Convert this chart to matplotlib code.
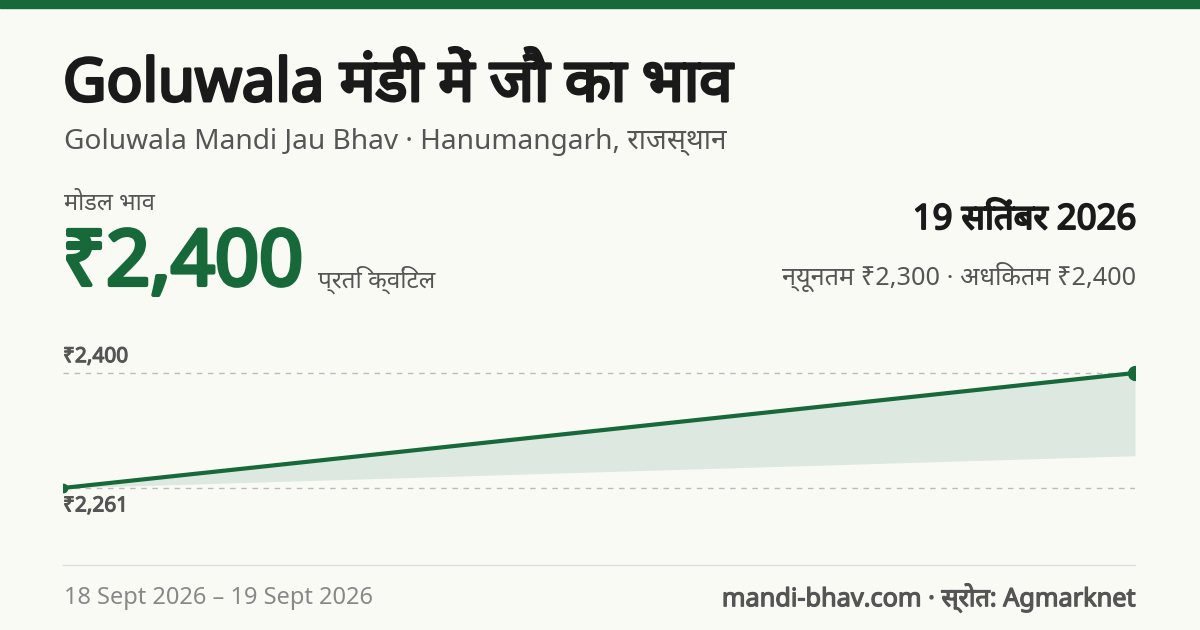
import matplotlib
matplotlib.use("Agg")
import matplotlib.pyplot as plt
from matplotlib.patches import Rectangle
from matplotlib.lines import Line2D
import matplotlib.patheffects as pe

plt.rcParams['font.family'] = ['Noto Sans', 'DejaVu Sans']

dates = ["18 Sept 2026", "19 Sept 2026"]
modal = [2261, 2400]
minp = [2261, 2300]
GREEN = "#17693a"
BG = "#fafaf5"

W, H = 1200, 630
fig = plt.figure(figsize=(12, 6.3), dpi=100, facecolor=BG)
def fy(px): return 1 - px / H
def fx(px): return px / W
def bold(c, w=1.2): return [pe.withStroke(linewidth=w, foreground=c)]

fig.add_artist(Rectangle((0, fy(8)), 1, 8 / H, transform=fig.transFigure, color=GREEN))
fig.text(fx(63), fy(85), "Goluwala मंडी में जौ का भाव", fontsize=43, color="#1a1a1a", va="center", path_effects=bold("#1a1a1a", 2.2))
fig.text(fx(64), fy(142), "Goluwala Mandi Jau Bhav · Hanumangarh, राजस्थान", fontsize=20.2, color="#555555", va="center")
fig.text(fx(64), fy(204), "मोडल भाव", fontsize=17, color="#555555", va="center")
fig.text(fx(62), fy(265), "₹2,400", fontsize=55.5, color=GREEN, va="center", path_effects=bold(GREEN, 3))
fig.text(fx(318), fy(280), "प्रति क्विंटल", fontsize=17.5, color="#555555", va="center")
fig.text(fx(1136), fy(220), "19 सितंबर 2026", fontsize=25, color="#1a1a1a", ha="right", va="center", path_effects=bold("#1a1a1a", 1.4))
fig.text(fx(1136), fy(277), "न्यूनतम ₹2,300 · अधिकतम ₹2,400", fontsize=18.2, color="#555555", ha="right", va="center")

ax = fig.add_axes([fx(63), fy(520), fx(1135) - fx(63), (520 - 345) / H])
ax.set_facecolor("none")
x = [0, 1]
ax.fill_between(x, minp, modal, color="#dde9e0", lw=0)
ax.plot(x, modal, color=GREEN, lw=3, solid_capstyle="round")
ax.plot([x[0]], [modal[0]], "o", color=GREEN, ms=6)
ax.plot([x[1]], [modal[1]], "o", color=GREEN, ms=10)
for v in (max(modal), min(modal)):
    ax.axhline(v, color="#bbbbbb", lw=1, ls=(0, (4, 4)), zorder=0)
ax.text(0, max(modal) + 7, f"₹{max(modal):,}", fontsize=15, color="#555555", va="bottom", path_effects=bold("#555555", 0.8))
ax.text(0, min(modal) - 9, f"₹{min(modal):,}", fontsize=15, color="#555555", va="top", path_effects=bold("#555555", 0.8))
ax.set_xlim(0, 1)
ax.set_ylim(2222.3, 2433.8)
ax.axis("off")

fig.add_artist(Line2D([fx(63), fx(1135)], [fy(565), fy(565)], transform=fig.transFigure, color="#dddddd", lw=1))
fig.text(fx(64), fy(598), f"{dates[0]} – {dates[1]}", fontsize=17, color="#888888", va="center")
fig.text(fx(1136), fy(598), "mandi-bhav.com · स्रोत: Agmarknet", fontsize=18.2, color="#555555", ha="right", va="center", path_effects=bold("#555555", 0.9))

fig.savefig("out.png", dpi=100, facecolor=BG)
